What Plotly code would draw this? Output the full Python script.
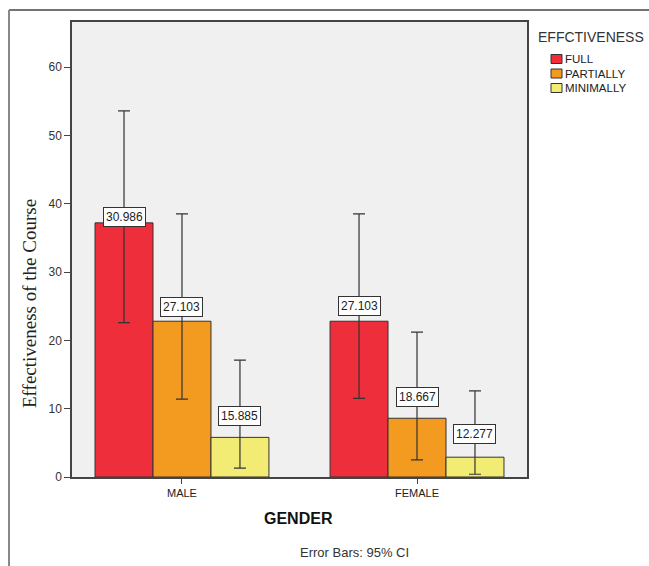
import plotly.graph_objects as go

# ---- data ----
genders = ["MALE", "FEMALE"]
series = ["FULL", "PARTIALLY", "MINIMALLY"]
full_vals = [37.2, 22.8]
partial_vals = [22.8, 8.6]
minimal_vals = [5.8, 2.9]
full_hi = [53.6, 38.5]
partial_hi = [38.5, 21.2]
minimal_hi = [17.1, 12.6]
full_lo = [22.6, 11.5]
partial_lo = [11.4, 2.5]
minimal_lo = [1.3, 0.4]
full_labels = ["30.986", "27.103"]
partial_labels = ["27.103", "18.667"]
minimal_labels = ["15.885", "12.277"]
y_ticks = [0, 10, 20, 30, 40, 50, 60]

# ---- styles ----
colors = ["#ee2e3a", "#f39a21", "#f3ec74"]
label_lift = [[6, 14, 21], [15, 21, 23]]  # px above bar top, per gender / series
FONT = "Arial, 'Liberation Sans', sans-serif"
BARGAP = 0.26
W, H = 649, 566
ML, MR, MT, MB = 72, 122, 22, 89
PW, PH = W - ML - MR, H - MT - MB


def px_x(p):  # pixel -> paper x
    return (p - ML) / PW


def px_y(p):  # pixel -> paper y
    return (H - MB - p) / PH


vals = [full_vals, partial_vals, minimal_vals]
his = [full_hi, partial_hi, minimal_hi]
los = [full_lo, partial_lo, minimal_lo]
labels = [full_labels, partial_labels, minimal_labels]

fig = go.Figure()
for k, name in enumerate(series):
    v = vals[k]
    fig.add_trace(go.Bar(
        x=genders, y=v, name=name,
        marker=dict(color=colors[k], line=dict(color="#333333", width=1)),
        error_y=dict(type="data", symmetric=False,
                     array=[h - y for h, y in zip(his[k], v)],
                     arrayminus=[y - l for l, y in zip(los[k], v)],
                     color="#333333", thickness=1.2, width=6),
    ))

annotations = []
group_w = 1 - BARGAP
bar_w = group_w / len(series)
for k in range(len(series)):
    for i in range(len(genders)):
        xpos = i - group_w / 2 + bar_w * (k + 0.5)
        annotations.append(dict(
            x=xpos, y=vals[k][i], xref="x", yref="y",
            text=labels[k][i], showarrow=False,
            yanchor="middle", yshift=label_lift[i][k],
            font=dict(family=FONT, size=12, color="#222222"),
            bgcolor="white", bordercolor="#333333", borderwidth=1, borderpad=2,
        ))

annotations += [
    dict(text="GENDER", x=px_x(298), y=px_y(518), xref="paper", yref="paper",
         showarrow=False, yanchor="middle",
         font=dict(family=FONT, size=16, color="#111111", weight="bold")),
    dict(text="Error Bars: 95% CI", x=px_x(354), y=px_y(552), xref="paper", yref="paper",
         showarrow=False, yanchor="middle",
         font=dict(family=FONT, size=13, color="#333333")),
    dict(text="Effectiveness of the Course", x=px_x(29), y=px_y(304), xref="paper", yref="paper",
         showarrow=False, textangle=-90, xanchor="center", yanchor="middle",
         font=dict(family="'Times New Roman', 'Liberation Serif', serif", size=19, color="#222222")),
    dict(text="EFFCTIVENESS", x=px_x(536), y=px_y(37), xref="paper", yref="paper",
         showarrow=False, xanchor="left", yanchor="middle",
         font=dict(family=FONT, size=14, color="#333333")),
]

shapes = [
    dict(type="line", xref="paper", yref="paper", x0=px_x(9), x1=px_x(W + 5), y0=px_y(10), y1=px_y(10),
         line=dict(color="#444444", width=1.5)),
    dict(type="line", xref="paper", yref="paper", x0=px_x(9), x1=px_x(9), y0=px_y(10), y1=px_y(H + 5),
         line=dict(color="#888888", width=2)),
]

# custom legend (SPSS style, compact rows)
for k, name in enumerate(series):
    cy = 59 + k * 14.5
    shapes.append(dict(type="rect", xref="paper", yref="paper",
                       x0=px_x(551), x1=px_x(562), y0=px_y(cy - 4.5), y1=px_y(cy + 4.5),
                       fillcolor=colors[k], line=dict(color="#333333", width=1)))
    annotations.append(dict(text=name, x=px_x(563), y=px_y(cy), xref="paper", yref="paper",
                            showarrow=False, xanchor="left", yanchor="middle",
                            font=dict(family=FONT, size=11.5, color="#222222")))

fig.update_layout(
    width=W, height=H,
    margin=dict(l=ML, r=MR, t=MT, b=MB, autoexpand=False),
    paper_bgcolor="white", plot_bgcolor="#f0f0f0",
    barmode="group", bargap=BARGAP, bargroupgap=0,
    showlegend=False,
    xaxis=dict(
        range=[-0.468, 1.468],
        showline=True, linecolor="#444444", linewidth=1.5, mirror=True,
        ticks="outside", ticklen=5, tickcolor="#444444",
        tickfont=dict(family=FONT, size=11, color="#222222"),
        showgrid=False, zeroline=False,
    ),
    yaxis=dict(
        range=[0, 66.6], tickvals=y_ticks,
        showline=True, linecolor="#444444", linewidth=1.5, mirror=True,
        ticks="outside", ticklen=6, tickcolor="#444444",
        tickfont=dict(family=FONT, size=12, color="#333333"),
        showgrid=False, zeroline=False,
    ),
    annotations=annotations,
    shapes=shapes,
)

fig.write_html("out.html")
